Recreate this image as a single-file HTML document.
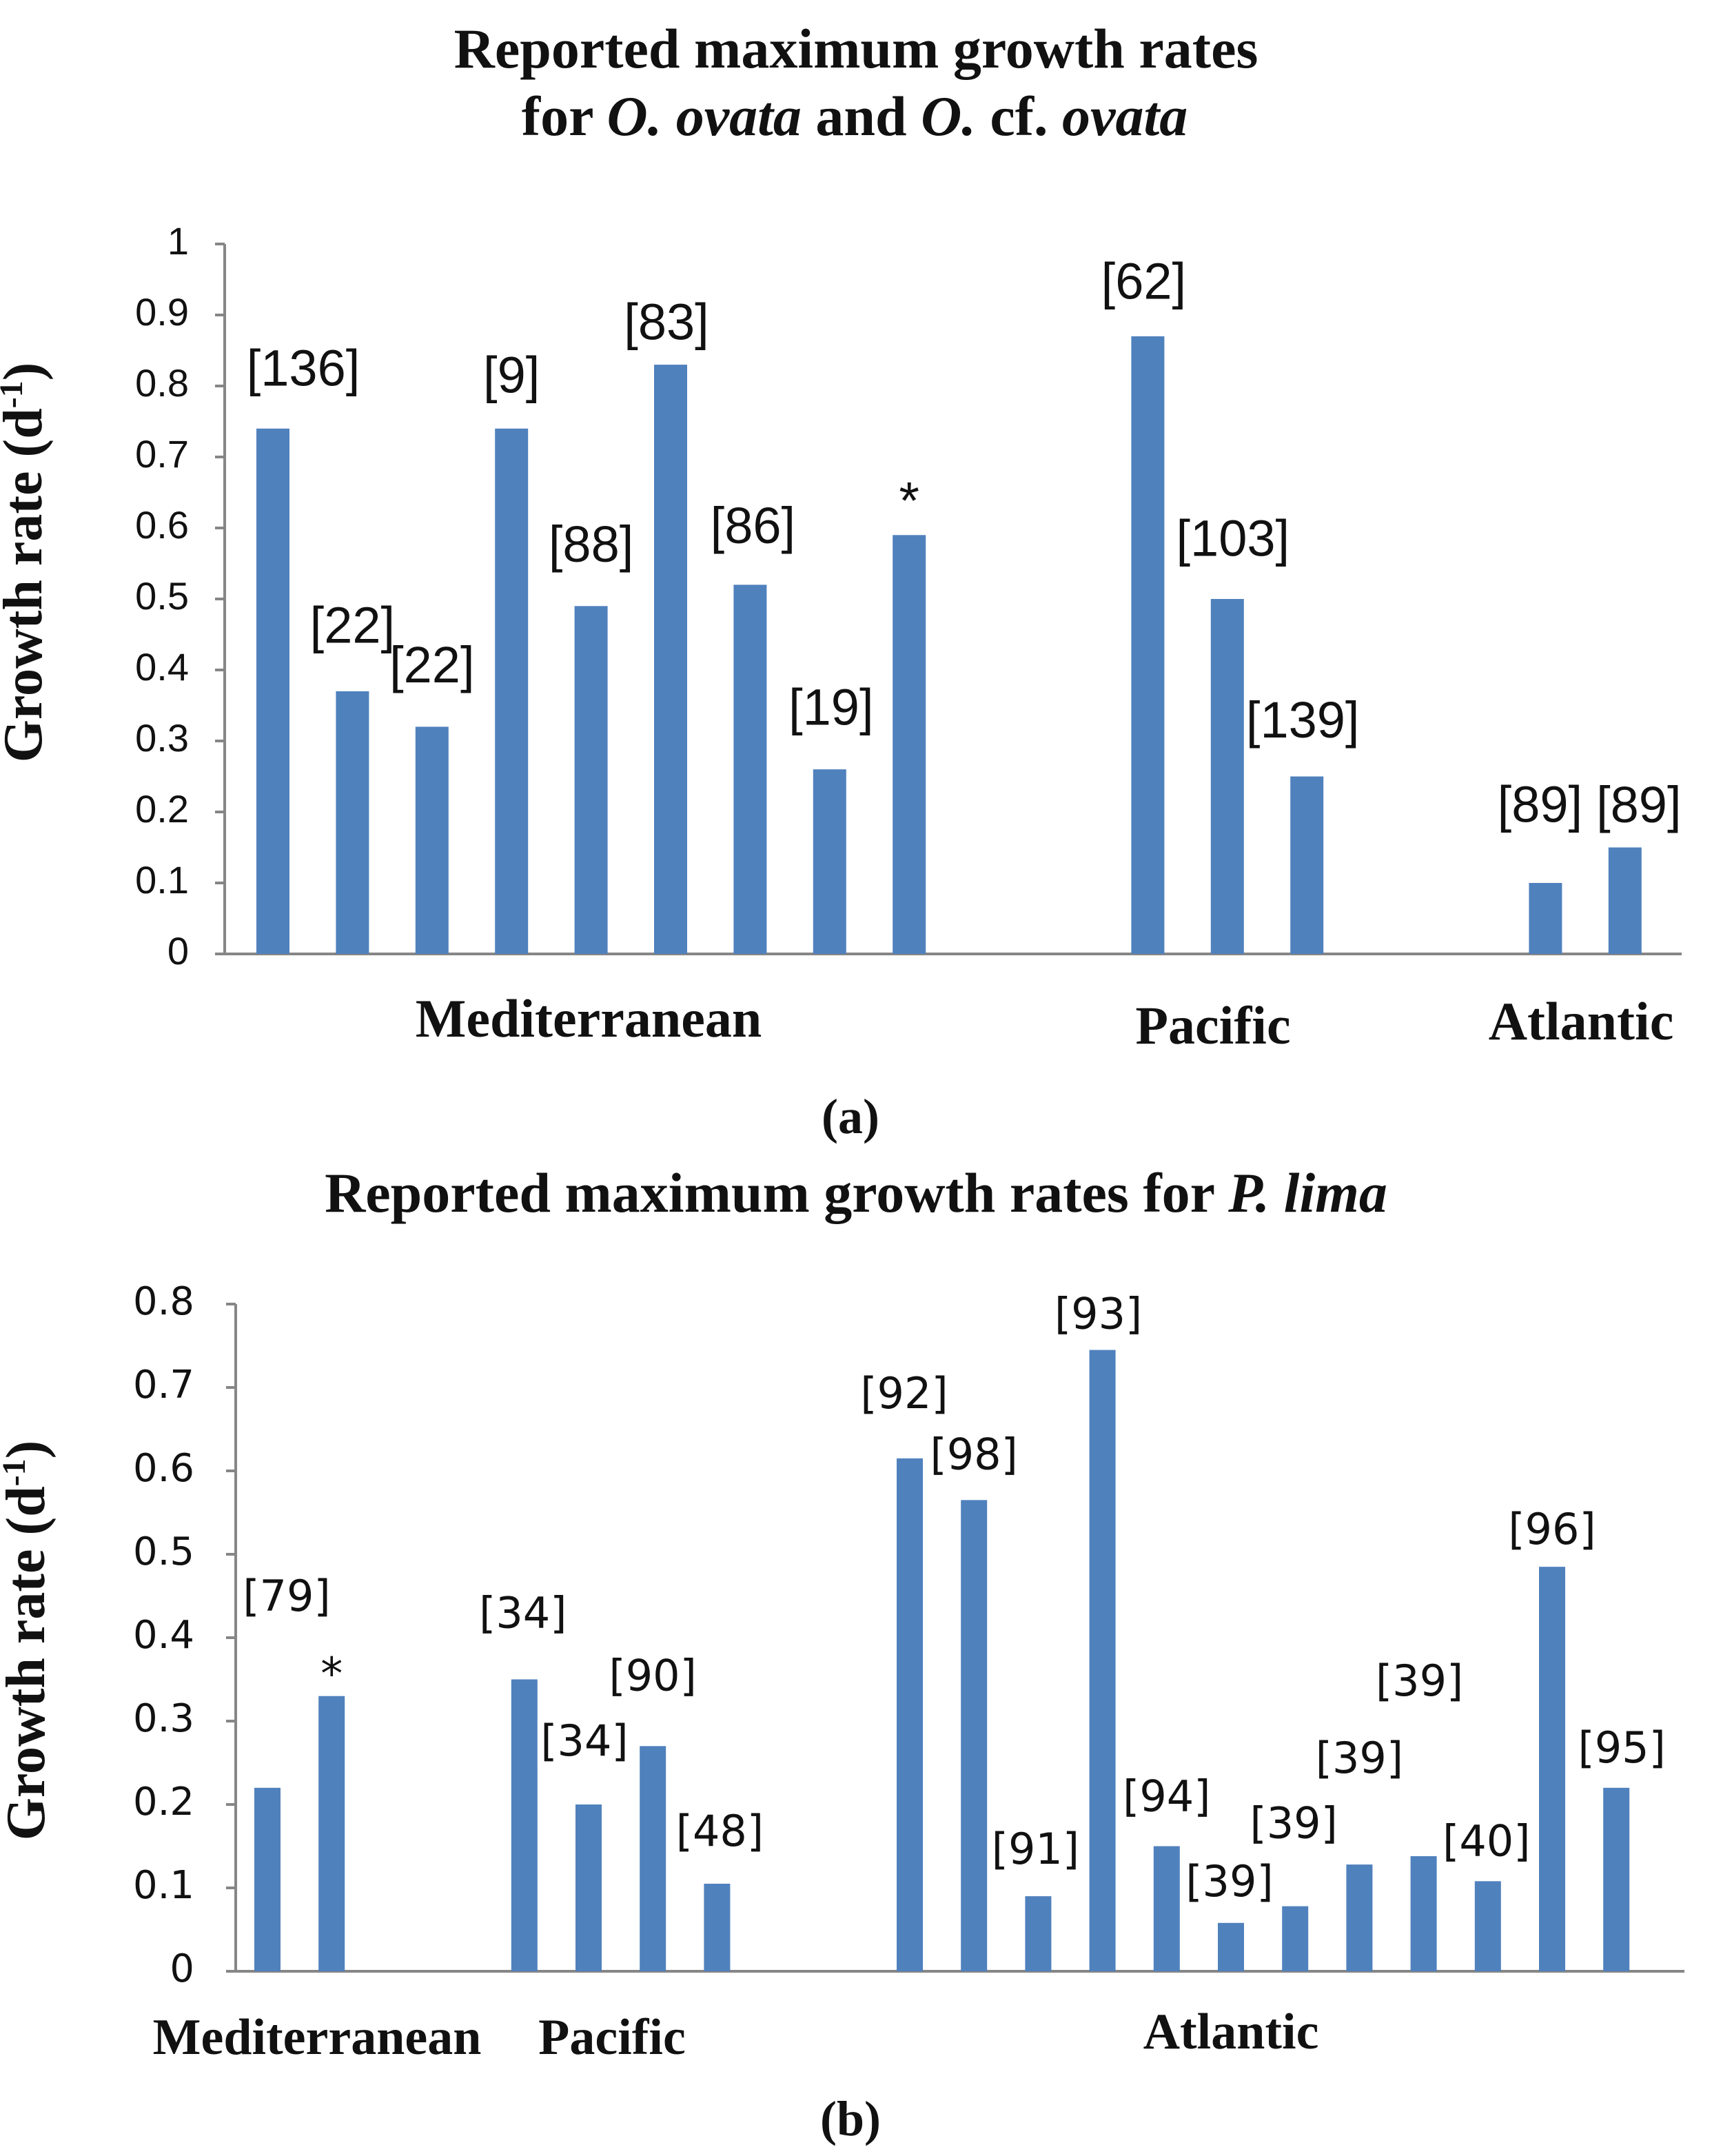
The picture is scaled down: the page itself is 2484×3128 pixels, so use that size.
<!DOCTYPE html>
<html><head><meta charset="utf-8"><style>
html,body{margin:0;padding:0;background:#fff}
svg{display:block}
.t{font-family:"Liberation Serif",serif;font-weight:bold;fill:#111}
.lab{font-family:"Liberation Sans",sans-serif;fill:#111}
.labb{font-family:"DejaVu Sans",sans-serif;fill:#111}
</style></head><body>
<svg id="svg" width="2484" height="3128" viewBox="0 0 1242 1564" xmlns="http://www.w3.org/2000/svg">
<text class="t" x="621" y="49" font-size="41" text-anchor="middle">Reported maximum growth rates</text>
<text class="t" x="620" y="98" font-size="41" text-anchor="middle">for <tspan font-style="italic">O. ovata</tspan> and <tspan font-style="italic">O.</tspan> cf. <tspan font-style="italic">ovata</tspan></text>
<text class="t" x="30" y="408" font-size="40" text-anchor="middle" transform="rotate(-90 30 408)">Growth rate (d<tspan font-size="24" dy="-14">-1</tspan><tspan dy="14">)</tspan></text>
<text class="t" x="427" y="752" font-size="39" text-anchor="middle">Mediterranean</text>
<text class="t" x="880" y="757" font-size="39" text-anchor="middle">Pacific</text>
<text class="t" x="1147" y="754" font-size="39" text-anchor="middle">Atlantic</text>
<text class="t" x="617" y="822" font-size="36" text-anchor="middle" font-weight="normal">(<tspan font-weight="bold">a</tspan>)</text>
<text class="t" x="621" y="879" font-size="41" text-anchor="middle">Reported maximum growth rates for <tspan font-style="italic">P. lima</tspan></text>
<text class="t" x="32" y="1190" font-size="40" text-anchor="middle" transform="rotate(-90 32 1190)">Growth rate (d<tspan font-size="24" dy="-14">-1</tspan><tspan dy="14">)</tspan></text>
<text class="t" x="230" y="1490" font-size="37" text-anchor="middle">Mediterranean</text>
<text class="t" x="444" y="1490" font-size="37" text-anchor="middle">Pacific</text>
<text class="t" x="893" y="1486" font-size="37" text-anchor="middle">Atlantic</text>
<text class="t" x="617" y="1549" font-size="36" text-anchor="middle" font-weight="normal">(<tspan font-weight="bold">b</tspan>)</text>
<g id="ga"></g><g id="gb"></g>
</svg>
<script>
const aSlots=[0,1,2,3,4,5,6,7,8,11,12,13,16,17];
const aValues=[0.74,0.37,0.32,0.74,0.49,0.83,0.52,0.26,0.59,0.87,0.50,0.25,0.10,0.15];
const aLabels=["[136]","[22]","[22]","[9]","[88]","[83]","[86]","[19]","*","[62]","[103]","[139]","[89]","[89]"];
const aTicks=[0,0.1,0.2,0.3,0.4,0.5,0.6,0.7,0.8,0.9,1];
const aLabelDx=[22,0,0,0,0,-3,2,1,0,-3,4,-3,-4,10];
const aLabelDy=[-41,-45,-42,-36,-42,-28,-40,-42,-22,-37,-41,-38,-54,-28];

const bSlots=[0,1,4,5,6,7,10,11,12,13,14,15,16,17,18,19,20,21];
const bValues=[0.22,0.33,0.35,0.20,0.27,0.105,0.615,0.565,0.09,0.745,0.15,0.058,0.078,0.128,0.138,0.108,0.485,0.22];
const bLabels=["[79]","*","[34]","[34]","[90]","[48]","[92]","[98]","[91]","[93]","[94]","[39]","[39]","[39]","[39]","[40]","[96]","[95]"];
const bTicks=[0,0.1,0.2,0.3,0.4,0.5,0.6,0.7,0.8];
const bLabelDx=[14,0,-1,-3,0,2,-4,0,-2,-3,0,-1,-1,0,-3,-1,0,4];
const bLabelDy=[-137,-14,-46,-44,-49,-36,-45,-31,-32,-24,-34,-28,-58,-75,-125,-27,-25,-27];

const NS="http://www.w3.org/2000/svg";
function mk(tag,attrs,parent){const e=document.createElementNS(NS,tag);for(const k in attrs)e.setAttribute(k,attrs[k]);parent.appendChild(e);return e;}

function drawChart(g,prefix,cfg,slots,values,labels,ticks,dx,dy){
  const y=v=>cfg.y0-(v/cfg.vmax)*(cfg.y0-cfg.y1);
  const x=s=>cfg.x0+s*cfg.step;
  ticks.forEach(t=>{
    const l=mk('line',{x1:cfg.ax-7,x2:cfg.ax,y1:y(t),y2:y(t),stroke:'#868686','stroke-width':2},g);
    
    
    const tx=mk('text',{x:cfg.ax-cfg.tickOff,y:y(t),'font-size':cfg.tickFs,'text-anchor':'end','dominant-baseline':'middle',class:cfg.cls},g);
    tx.textContent=String(t);
    
    
  });
  const ya=mk('line',{x1:cfg.ax,x2:cfg.ax,y1:y(ticks[ticks.length-1]),y2:cfg.y0,stroke:'#868686','stroke-width':2},g);
  
  
  const xa=mk('line',{x1:cfg.ax-7,x2:cfg.xEnd,y1:cfg.y0,y2:cfg.y0,stroke:'#868686','stroke-width':2},g);
  
  
  slots.forEach((s,i)=>{
    const cx=x(s),top=y(values[i]);
    const r=mk('rect',{x:cx-cfg.bw/2,y:top,width:cfg.bw,height:cfg.y0-top,fill:'#4F81BD'},g);
    
    
    const lb=mk('text',{x:cx+dx[i],y:top+dy[i],'font-size':labels[i]==='*'?cfg.starFs:cfg.labFs,'text-anchor':'middle','dominant-baseline':'middle',class:cfg.cls},g);
    lb.textContent=labels[i];
    
    
  });
}
drawChart(document.getElementById('ga'),'chart-a',{ax:163,x0:198,step:57.7,y0:692,y1:177,vmax:1,xEnd:1220,bw:24,tickFs:28,tickOff:26,labFs:37,starFs:38,cls:'lab'},aSlots,aValues,aLabels,aTicks,aLabelDx,aLabelDy);
drawChart(document.getElementById('gb'),'chart-b',{ax:171,x0:194,step:46.6,y0:1430,y1:946,vmax:0.8,xEnd:1222,bw:19,tickFs:28,tickOff:30,labFs:31,starFs:32,cls:'labb'},bSlots,bValues,bLabels,bTicks,bLabelDx,bLabelDy);
</script>
</body></html>
